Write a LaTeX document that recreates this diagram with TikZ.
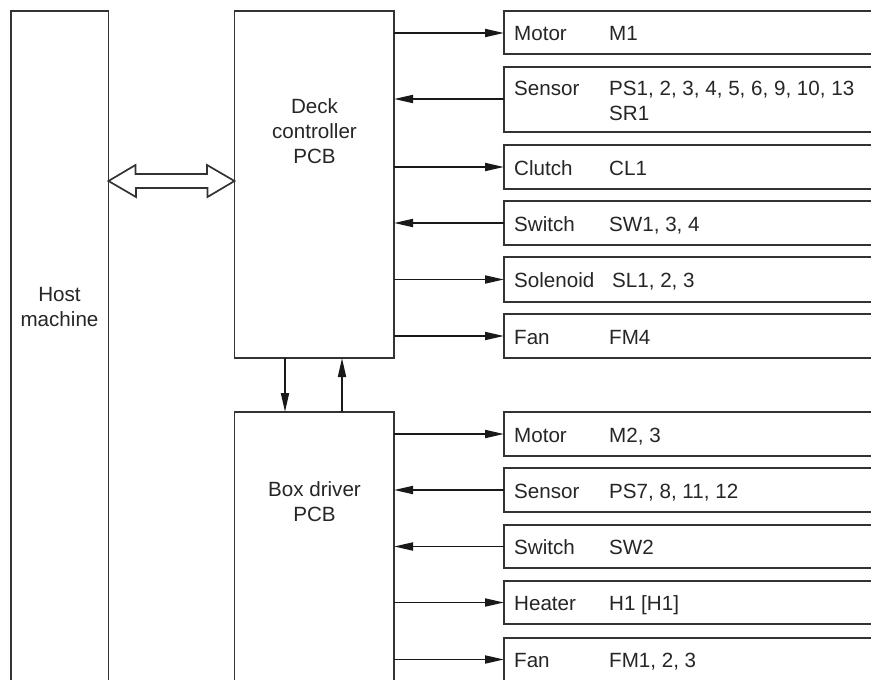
\documentclass[tikz,border=0pt]{standalone}
\usepackage{fontspec}
\setmainfont{Liberation Sans}
\usetikzlibrary{arrows.meta,calc}
\definecolor{ink}{HTML}{262626}
\definecolor{edge}{HTML}{333333}
\begin{document}
\begin{tikzpicture}[x=1pt,y=1pt,
  line/.style={draw=edge,line width=1.7pt},
  box/.style={line,rectangle,inner sep=0pt,outer sep=0pt,anchor=north west},
  rbox/.style={box,minimum width=400pt},
  lbl/.style={text=ink,inner sep=0pt,anchor=base west,font=\fontsize{20.6}{25}\selectfont},
  ctr/.style={text=ink,inner sep=0pt,align=center,font=\fontsize{20.6}{25}\selectfont},
  conn/.style={draw=black!90,line width=1.8pt,-{Triangle[length=19pt,width=8pt]}},
]
\useasboundingbox (0,0) rectangle (871,-680);
\clip (0,0) rectangle (871,-680);
\fill[white] (0,0) rectangle (871,-680);
% main blocks
\node[box,minimum width=97.5pt,minimum height=700pt] (host) at (11,-11) {};
\node[box,minimum width=159.5pt,minimum height=347pt] (deck) at (234.5,-11) {};
\node[box,minimum width=159.5pt,minimum height=300pt] (boxd) at (234.5,-412) {};
\node[ctr,anchor=base] (hostt) at (59.5,-326.7) {Host\\machine};
\node[ctr,anchor=base] (deckt) at (314.5,-163) {Deck\\controller\\PCB};
\node[ctr,anchor=base] (boxdt) at (314.5,-521.7) {Box driver\\PCB};
% right boxes (open to the right)
\node[rbox,minimum height=43pt] (m1) at (504,-11) {};
\node[rbox,minimum height=65pt] (s1) at (504,-67) {};
\node[rbox,minimum height=44pt] (cl) at (504,-145) {};
\node[rbox,minimum height=44pt] (sw1) at (504,-201) {};
\node[rbox,minimum height=45pt] (sol) at (504,-257) {};
\node[rbox,minimum height=44pt] (fan1) at (504,-314) {};
\node[rbox,minimum height=44pt] (m2) at (504,-412) {};
\node[rbox,minimum height=44pt] (s2) at (504,-468) {};
\node[rbox,minimum height=43pt] (sw2) at (504,-525) {};
\node[rbox,minimum height=43pt] (h1) at (504,-581) {};
\node[rbox,minimum height=44pt] (fan2) at (504,-638) {};
% labels
\node[lbl] (l1a) at (514,-40.5) {Motor};    \node[lbl] (l1b) at (609,-40.5) {M1};
\node[lbl] (l2a) at (514,-95) {Sensor};     \node[lbl] (l2b) at (609,-95) {PS1, 2, 3, 4, 5, 6, 9, 10, 13};
\node[lbl] (l2c) at (609,-120) {SR1};
\node[lbl] (l3a) at (514,-175) {Clutch};    \node[lbl] (l3b) at (609,-175) {CL1};
\node[lbl] (l4a) at (514,-231) {Switch};    \node[lbl] (l4b) at (609,-231) {SW1, 3, 4};
\node[lbl] (l5a) at (514,-287.5) {Solenoid};\node[lbl] (l5b) at (612,-287.5) {SL1, 2, 3};
\node[lbl] (l6a) at (514,-344) {Fan};       \node[lbl] (l6b) at (609,-344) {FM4};
\node[lbl] (l7a) at (514,-442) {Motor};     \node[lbl] (l7b) at (609,-442) {M2, 3};
\node[lbl] (l8a) at (514,-498) {Sensor};    \node[lbl] (l8b) at (609,-498) {PS7, 8, 11, 12};
\node[lbl] (l9a) at (514,-554.5) {Switch};  \node[lbl] (l9b) at (609,-554.5) {SW2};
\node[lbl] (l10a) at (514,-610.5) {Heater}; \node[lbl] (l10b) at (609,-610.5) {H1 [H1]};
\node[lbl] (l11a) at (514,-667) {Fan};      \node[lbl] (l11b) at (609,-667) {FM1, 2, 3};
% connectors deck side
\draw[conn] (deck.east |- 0,-33) -- (m1.west |- 0,-33);
\draw[conn] (s1.west |- 0,-99) -- (deck.east |- 0,-99);
\draw[conn] (deck.east |- cl.west) -- (cl.west);
\draw[conn] (sw1.west) -- (deck.east |- sw1.west);
\draw[conn] (deck.east |- sol.west) -- (sol.west);
\draw[conn] (deck.east |- fan1.west) -- (fan1.west);
% connectors box side
\draw[conn] (boxd.east |- m2.west) -- (m2.west);
\draw[conn] (s2.west) -- (boxd.east |- s2.west);
\draw[conn] (sw2.west) -- (boxd.east |- sw2.west);
\draw[conn] (boxd.east |- h1.west) -- (h1.west);
\draw[conn] (boxd.east |- 0,-659.5) -- (fan2.west |- 0,-659.5);
% vertical link
\draw[conn] (deck.south -| 285,0) -- (boxd.north -| 285,0);
\draw[conn] (boxd.north -| 342,0) -- (deck.south -| 342,0);
% double arrow host <-> deck
\coordinate (dl) at (host.east |- 0,-181);
\coordinate (dr) at (deck.west |- 0,-181);
\draw[line,line join=miter,fill=white] (dl) -- ++(27,16) -- ++(0,-9) -- ++(71.5,0) -- ++(0,9) -- (dr)
  -- ++(-27,-16) -- ++(0,9) -- ++(-71.5,0) -- ++(0,-9) -- cycle;
\end{tikzpicture}
\end{document}
